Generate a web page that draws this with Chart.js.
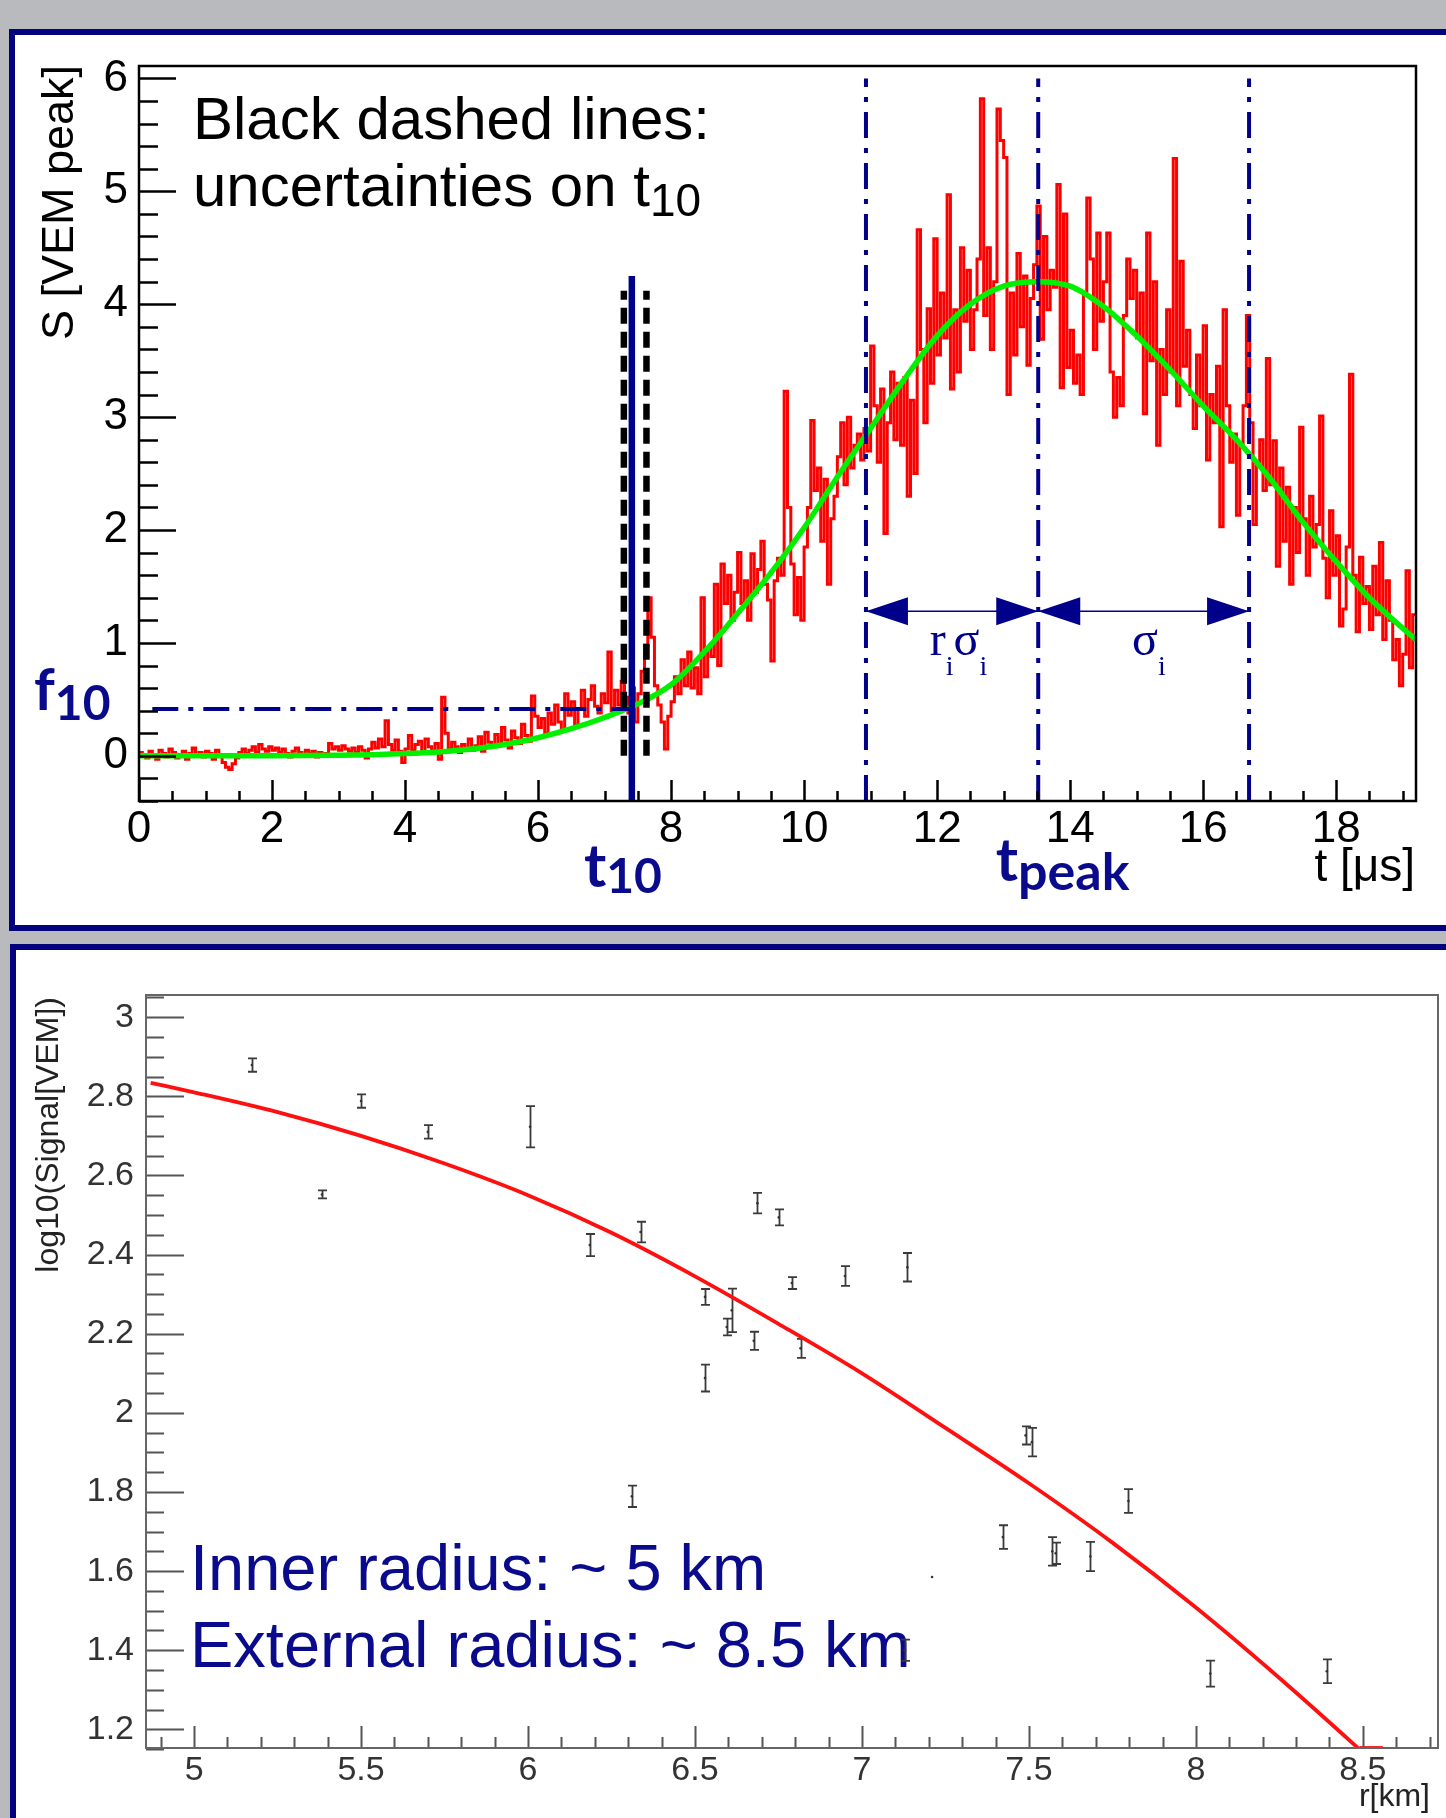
<!DOCTYPE html>
<html>
<head>
<meta charset="utf-8">
<script src="https://cdn.jsdelivr.net/npm/chart.js@4.4.1/dist/chart.umd.min.js"></script>
<style>
html,body{margin:0;padding:0;background:#b9babe;width:1446px;height:1818px;overflow:hidden;}
.panel{position:absolute;background:#ffffff;border:6px solid #03037e;box-sizing:border-box;}
#p1{left:9px;top:29px;width:1470px;height:902px;}
#p2{left:10px;top:944px;width:1470px;height:900px;}
canvas{position:absolute;left:0;}
#c1{top:0;}
#c2{top:930px;}
</style>
</head>
<body>
<div class="panel" id="p1"></div>
<div class="panel" id="p2"></div>
<canvas id="c1" width="1446" height="930"></canvas>
<canvas id="c2" width="1446" height="888"></canvas>
<script>
// ---------------- TOP PANEL DATA ----------------
const traceT0 = 0;          // start time of first bin [us]
const traceBin = 0.05;      // bin width [us]
const traceValues = [
  0.03,0.01,-0.02,0.04,0.00,-0.03,0.05,0.02,-0.01,0.06,0.03,-0.02,0.01,0.04,-0.03,0.02,0.07,0.00,0.03,-0.01,
  0.04,0.02,-0.03,0.05,0.01,-0.06,-0.10,-0.12,-0.07,-0.02,0.03,0.06,0.02,0.05,0.08,0.03,0.10,0.06,0.04,0.08,
  0.05,0.07,0.03,0.06,0.02,-0.01,0.04,0.07,0.03,0.00,0.05,0.02,0.04,-0.01,0.03,0.00,0.02,0.11,0.06,0.08,
  0.05,0.09,0.06,0.04,0.07,0.03,0.08,0.05,-0.02,0.06,0.12,0.07,0.15,0.08,0.31,0.10,0.05,0.14,0.04,-0.06,
  0.06,0.18,0.05,0.10,0.13,0.02,0.15,0.08,0.04,0.11,-0.03,0.52,0.20,0.06,0.12,0.08,0.03,0.10,0.06,0.15,
  0.05,0.09,0.17,0.04,0.21,0.12,0.08,0.19,0.10,0.25,0.14,0.07,0.22,0.16,0.11,0.28,0.18,0.13,0.53,0.35,
  0.25,0.33,0.20,0.38,0.28,0.45,0.30,0.22,0.55,0.36,0.48,0.27,0.41,0.58,0.35,0.50,0.62,0.44,0.38,0.55,
  0.47,0.92,0.40,0.58,0.45,0.66,0.52,0.38,0.60,0.30,0.55,0.75,0.98,1.40,1.05,0.62,0.45,0.30,0.06,0.35,
  0.48,0.70,0.55,0.85,0.62,0.92,0.60,0.78,0.55,1.40,0.70,0.95,0.88,1.52,0.80,1.70,1.35,1.60,1.20,1.45,
  1.80,1.35,1.55,1.20,1.79,1.45,1.65,1.90,1.52,1.38,0.84,1.55,1.75,1.60,3.23,2.20,1.70,1.25,1.58,1.20,
  1.85,2.20,2.97,2.35,2.55,1.90,2.45,1.52,2.10,2.30,2.65,2.95,2.40,3.00,2.55,2.75,2.85,2.62,2.90,2.70,
  3.63,3.10,2.60,3.25,1.97,2.95,3.40,2.80,3.30,2.75,3.35,2.30,3.15,2.50,4.66,3.60,2.95,3.96,3.30,4.58,
  3.55,4.10,3.70,4.97,3.25,3.95,3.40,4.50,3.85,4.30,3.60,3.95,4.40,5.82,3.90,4.50,3.60,4.20,5.73,5.45,
  5.30,3.20,4.10,3.55,4.45,3.80,4.25,3.46,4.05,4.35,4.87,3.69,4.60,3.95,4.30,4.15,5.06,3.26,4.80,3.44,
  3.77,3.30,3.55,3.20,4.10,4.94,4.40,3.60,4.63,3.85,4.20,4.63,3.40,3.00,3.35,3.10,3.90,4.40,4.05,4.30,
  3.70,4.10,3.03,4.63,3.50,4.20,2.75,3.60,3.20,3.95,3.40,5.29,3.10,4.38,3.45,3.77,3.20,2.90,3.55,3.10,
  3.81,2.62,3.20,2.95,3.45,2.03,3.95,3.10,2.60,2.85,2.13,2.75,3.10,3.90,2.95,2.05,2.60,2.80,2.35,3.52,
  2.40,2.79,1.68,2.55,1.90,2.38,1.52,2.20,1.80,2.91,2.10,1.60,2.30,1.85,2.05,3.01,1.75,1.40,2.17,1.60,
  1.95,1.15,1.30,1.85,3.38,1.60,1.10,1.76,1.35,1.50,1.12,1.68,1.25,1.89,1.03,1.55,1.20,0.85,1.03,0.62,
  0.90,1.64,0.78,1.25
];
const fitT = [0,1,2,3,3.5,4,4.5,5,5.5,6,6.5,7,7.5,8,8.5,9,9.5,10,10.5,11,11.5,12,12.5,13,13.5,14,14.5,15,15.5,16,16.5,17,17.5,18,18.5,19,19.2];
const fitS = [0.00,0.00,0.00,0.005,0.01,0.02,0.035,0.06,0.10,0.16,0.24,0.34,0.46,0.63,0.92,1.26,1.62,2.02,2.47,2.90,3.33,3.72,4.00,4.16,4.20,4.16,3.98,3.72,3.42,3.10,2.80,2.46,2.07,1.72,1.40,1.13,1.03];

const t10 = 7.41, t10Low = 7.29, t10High = 7.63;
const t10LineTop = 4.25, t10DashTop = 4.12, t10DashBottom = 0.0;
const f10 = 0.415, f10Start = 0.2;
const tRise = 10.93, tPeak = 13.52, tFall = 16.69;
const markerTop = 6.0, axisBottomTop = -0.4;
const arrowLevel = 1.28;

const xTicksTop = [0,2,4,6,8,10,12,14,16,18];
const xTickLabelsTop = ['0','2','4','6','8','10','12','14','16','18'];
const yTicksTop = [0,1,2,3,4,5,6];
const yTickLabelsTop = ['0','1','2','3','4','5','6'];

// ---------------- BOTTOM PANEL DATA ----------------
const pointsR = [5.173,5.383,5.50,5.70,6.006,6.185,6.337,6.311,6.53,6.53,6.595,6.61,6.676,6.687,6.751,6.79,6.816,6.949,7.136,7.128,7.21,7.422,7.49,7.509,7.57,7.58,7.684,7.798,8.043,8.392];
const pointsV = [2.879,2.552,2.788,2.71,2.723,2.424,2.457,1.789,2.293,2.088,2.217,2.259,2.182,2.53,2.494,2.328,2.163,2.346,2.368,1.40,1.585,1.686,1.943,1.926,1.65,1.645,1.637,1.777,1.341,1.347];
const pointsErr = [0.017,0.010,0.017,0.017,0.052,0.028,0.026,0.027,0.020,0.034,0.021,0.055,0.023,0.026,0.020,0.015,0.024,0.025,0.036,0.027,0,0.030,0.023,0.036,0.036,0.027,0.037,0.030,0.033,0.030];
const ldfR = [4.87,5.0,5.25,5.5,5.75,6.0,6.25,6.5,6.75,7.0,7.25,7.5,7.75,8.0,8.25,8.5,8.6];
const ldfV = [2.834,2.81,2.76,2.70,2.63,2.55,2.455,2.345,2.225,2.10,1.962,1.822,1.672,1.508,1.33,1.142,1.065];
const ldfTailR = [8.49,8.56];     // short flat piece of the fit along the lower axis
const ldfTailV = [1.153,1.153];

const xTicksBot = [5,5.5,6,6.5,7,7.5,8,8.5];
const xTickLabelsBot = ['5','5.5','6','6.5','7','7.5','8','8.5'];
const yTicksBot = [1.2,1.4,1.6,1.8,2.0,2.2,2.4,2.6,2.8,3.0];
const yTickLabelsBot = ['1.2','1.4','1.6','1.8','2','2.2','2.4','2.6','2.8','3'];

// ---------------- STYLE ----------------
const NAVY = '#00008b';
const TXTNAVY = '#0a0a8c';
const SANS = "'Liberation Sans', Arial, Helvetica, sans-serif";
Chart.defaults.font.family = SANS;
Chart.defaults.animation = false;

function range(a, b, step) {
  const out = [];
  const n = Math.round((b - a) / step);
  for (let i = 0; i <= n; i++) out.push(+(a + i * step).toFixed(4));
  return out;
}
const yMinorTop = range(-0.4, 6.0, 0.2);
const xMinorTop = range(0, 19, 0.5);
const yMinorBot = range(1.15, 3.05, 0.05);
const xMinorBot = range(4.9, 8.7, 0.1);

function drawFrameTicks(chart, o) {
  const {ctx, chartArea: ca, scales: {x, y}} = chart;
  ctx.save();
  ctx.strokeStyle = o.color;
  ctx.lineWidth = o.width;
  ctx.lineCap = 'butt';
  ctx.beginPath();
  o.yMinor.forEach(v => { const p = Math.round(y.getPixelForValue(v)) + 0.5; ctx.moveTo(ca.left, p); ctx.lineTo(ca.left + o.yMinLen, p); });
  o.yMajor.forEach(v => { const p = Math.round(y.getPixelForValue(v)) + 0.5; ctx.moveTo(ca.left, p); ctx.lineTo(ca.left + o.yMajLen, p); });
  o.xMinor.forEach(v => { const p = Math.round(x.getPixelForValue(v)) + 0.5; ctx.moveTo(p, ca.bottom); ctx.lineTo(p, ca.bottom - o.xMinLen); });
  o.xMajor.forEach(v => { const p = Math.round(x.getPixelForValue(v)) + 0.5; ctx.moveTo(p, ca.bottom); ctx.lineTo(p, ca.bottom - o.xMajLen); });
  ctx.stroke();
  ctx.strokeStyle = o.frameColor;
  ctx.lineWidth = o.frameWidth;
  ctx.strokeRect(ca.left, ca.top, ca.right - ca.left, ca.bottom - ca.top);
  ctx.restore();
}

function subText(ctx, main, sub, x, y, mainFont, subFont, subDy, color) {
  ctx.fillStyle = color;
  ctx.font = mainFont;
  ctx.textAlign = 'left';
  ctx.textBaseline = 'alphabetic';
  ctx.fillText(main, x, y);
  const w = ctx.measureText(main).width;
  ctx.font = subFont;
  ctx.fillText(sub, x + w, y + subDy);
}

// ---------------- TOP CHART ----------------
const tracePoints = traceValues.map((v, i) => ({x: traceT0 + i * traceBin, y: v}));
tracePoints.push({x: traceT0 + traceValues.length * traceBin, y: traceValues[traceValues.length - 1]});
const fitPoints = fitT.map((t, i) => ({x: t, y: fitS[i]}));

const topDecor = {
  id: 'topDecor',
  afterDatasetsDraw(chart) {
    const {ctx, scales: {x, y}} = chart;
    ctx.save();
    ctx.fillStyle = NAVY;
    const ay = y.getPixelForValue(arrowLevel);
    [[tRise, -1], [tPeak, 1], [tPeak, -1], [tFall, 1]].forEach(([t, d]) => {
      const px = x.getPixelForValue(t);
      ctx.beginPath();
      ctx.moveTo(px, ay);
      ctx.lineTo(px - d * 42, ay - 14);
      ctx.lineTo(px - d * 42, ay + 14);
      ctx.closePath();
      ctx.fill();
    });
    ctx.restore();
    drawFrameTicks(chart, {
      color: '#000', width: 2.5, frameColor: '#000', frameWidth: 2.5,
      yMinor: yMinorTop, yMajor: yTicksTop, xMinor: xMinorTop, xMajor: xTicksTop,
      yMinLen: 19, yMajLen: 37, xMinLen: 10, xMajLen: 21
    });
  },
  afterDraw(chart) {
    const {ctx, chartArea: ca, scales: {x, y}} = chart;
    ctx.save();
    // axis titles
    ctx.fillStyle = '#000';
    ctx.font = '45px ' + SANS;
    ctx.save();
    ctx.translate(73, ca.top - 1);
    ctx.rotate(-Math.PI / 2);
    ctx.textAlign = 'right';
    ctx.textBaseline = 'alphabetic';
    ctx.fillText('S [VEM peak]', 0, 0);
    ctx.restore();
    ctx.font = '46px ' + SANS;
    ctx.textAlign = 'right';
    ctx.fillText('t [\u03bcs]', ca.right - 1, 881);
    // annotation text
    ctx.textAlign = 'left';
    ctx.font = '60px ' + SANS;
    ctx.fillText('Black dashed lines:', 193, 139);
    subText(ctx, 'uncertainties on t', '10', 193, 206, '60px ' + SANS, '46px ' + SANS, 10, '#000');
    // f10, t10, tpeak
    subText(ctx, 't', '10', x.getPixelForValue(6.69), 887, 'bold 60px Lato, ' + SANS, 'bold 48px Lato, ' + SANS, 6, TXTNAVY);
    subText(ctx, 'f', '10', 34, 710, 'bold 58px Lato, ' + SANS, 'bold 48px Lato, ' + SANS, 10, TXTNAVY);
    subText(ctx, 't', 'peak', x.getPixelForValue(12.88), 881, 'bold 60px Lato, ' + SANS, 'bold 52px Lato, ' + SANS, 9, TXTNAVY);
    // r_i sigma_i, sigma_i
    const serif = "'Liberation Serif', 'Times New Roman', serif";
    const by = y.getPixelForValue(0.89);
    let px = x.getPixelForValue(11.89);
    ctx.fillStyle = NAVY;
    ctx.font = '48px ' + serif; ctx.fillText('r', px, by); px += ctx.measureText('r').width;
    ctx.font = '28px ' + serif; ctx.fillText('i', px, by + 20); px += ctx.measureText('i').width;
    ctx.font = '48px ' + serif; ctx.fillText('\u03c3', px, by); px += ctx.measureText('\u03c3').width;
    ctx.font = '28px ' + serif; ctx.fillText('i', px, by + 20);
    px = x.getPixelForValue(14.93);
    ctx.font = '48px ' + serif; ctx.fillText('\u03c3', px, by); px += ctx.measureText('\u03c3').width;
    ctx.font = '28px ' + serif; ctx.fillText('i', px, by + 20);
    ctx.restore();
  }
};

const vline = (t, y0, y1) => [{x: t, y: y0}, {x: t, y: y1}];
const DASHDOT = [26, 10, 5, 10];

new Chart(document.getElementById('c1'), {
  type: 'line',
  data: {
    datasets: [
      {label: 't10', data: vline(t10, axisBottomTop, t10LineTop), borderColor: NAVY, borderWidth: 6.5, order: 1},
      {label: 't10 low', data: vline(t10Low, t10DashBottom, t10DashTop), borderColor: '#000', borderWidth: 6.5, borderDash: [16, 8], order: 2},
      {label: 't10 high', data: vline(t10High, t10DashBottom, t10DashTop), borderColor: '#000', borderWidth: 6.5, borderDash: [16, 8], order: 2},
      {label: 'f10', data: [{x: f10Start, y: f10}, {x: t10, y: f10}], borderColor: NAVY, borderWidth: 4, borderDash: DASHDOT, order: 3},
      {label: 'arrow r sigma', data: [{x: tRise, y: arrowLevel}, {x: tPeak, y: arrowLevel}], borderColor: NAVY, borderWidth: 1.5, order: 3},
      {label: 'arrow sigma', data: [{x: tPeak, y: arrowLevel}, {x: tFall, y: arrowLevel}], borderColor: NAVY, borderWidth: 1.5, order: 3},
      {label: 'rise', data: vline(tRise, axisBottomTop, markerTop), borderColor: NAVY, borderWidth: 4, borderDash: DASHDOT, order: 4},
      {label: 'peak', data: vline(tPeak, axisBottomTop, markerTop), borderColor: NAVY, borderWidth: 4, borderDash: DASHDOT, order: 4},
      {label: 'fall', data: vline(tFall, axisBottomTop, markerTop), borderColor: NAVY, borderWidth: 4, borderDash: DASHDOT, order: 4},
      {label: 'fit', data: fitPoints, borderColor: '#00f000', borderWidth: 5.5, cubicInterpolationMode: 'monotone', order: 5},
      {label: 'trace', data: tracePoints, borderColor: '#ff0000', borderWidth: 3, stepped: true, order: 6}
    ]
  },
  options: {
    responsive: false,
    animation: false,
    events: [],
    elements: {point: {radius: 0}, line: {tension: 0, borderCapStyle: 'butt'}},
    plugins: {legend: {display: false}, tooltip: {enabled: false}},
    layout: {padding: {left: 0, top: 66, right: 30, bottom: 0}},
    scales: {
      x: {
        type: 'linear', min: 0, max: 19.2,
        grid: {display: false, drawTicks: false}, border: {display: false},
        afterBuildTicks: s => { s.ticks = xTicksTop.map(v => ({value: v})); },
        afterFit: s => { s.height = 129; },
        ticks: {font: {size: 44}, color: '#000', padding: 2, maxRotation: 0, autoSkip: false,
                callback: (v, i) => xTickLabelsTop[i]}
      },
      y: {
        type: 'linear', min: -0.4, max: 6.11,
        grid: {display: false, drawTicks: false}, border: {display: false},
        afterBuildTicks: s => { s.ticks = yTicksTop.map(v => ({value: v})); },
        afterFit: s => { s.width = 139; },
        ticks: {font: {size: 44}, color: '#000', padding: 11, autoSkip: false,
                callback: (v, i) => yTickLabelsTop[i]}
      }
    }
  },
  plugins: [topDecor]
});

// ---------------- BOTTOM CHART ----------------
const botDecor = {
  id: 'botDecor',
  beforeDatasetsDraw(chart) {
    const {ctx, scales: {x, y}} = chart;
    ctx.save();
    // blue text
    ctx.fillStyle = TXTNAVY;
    ctx.font = '65px ' + SANS;
    ctx.textAlign = 'left';
    ctx.textBaseline = 'alphabetic';
    ctx.fillText('Inner radius: ~ 5 km', 190, 660);
    ctx.fillText('External radius: ~ 8.5 km', 190, 737);
    // error bars
    ctx.strokeStyle = '#3a3a3a';
    ctx.lineWidth = 1.8;
    ctx.beginPath();
    pointsR.forEach((r, i) => {
      const e = pointsErr[i];
      if (!e) return;
      const px = Math.round(x.getPixelForValue(r)) + 0.5;
      const y1 = y.getPixelForValue(pointsV[i] - e);
      const y2 = y.getPixelForValue(pointsV[i] + e);
      ctx.moveTo(px, y1); ctx.lineTo(px, y2);
      ctx.moveTo(px - 4.5, y1); ctx.lineTo(px + 4.5, y1);
      ctx.moveTo(px - 4.5, y2); ctx.lineTo(px + 4.5, y2);
    });
    ctx.stroke();
    ctx.restore();
  },
  afterDatasetsDraw(chart) {
    drawFrameTicks(chart, {
      color: '#555', width: 2, frameColor: '#666', frameWidth: 2,
      yMinor: yMinorBot, yMajor: yTicksBot, xMinor: xMinorBot, xMajor: xTicksBot,
      yMinLen: 18, yMajLen: 38, xMinLen: 11, xMajLen: 22
    });
  },
  afterDraw(chart) {
    const {ctx, chartArea: ca} = chart;
    ctx.save();
    ctx.fillStyle = '#222';
    ctx.font = '32px ' + SANS;
    ctx.save();
    ctx.translate(58, ca.top + 2);
    ctx.rotate(-Math.PI / 2);
    ctx.textAlign = 'right';
    ctx.textBaseline = 'alphabetic';
    ctx.fillText('log10(Signal[VEM])', 0, 0);
    ctx.restore();
    ctx.textAlign = 'right';
    ctx.textBaseline = 'alphabetic';
    ctx.fillText('r[km]', ca.right - 8, 876);
    ctx.restore();
  }
};

new Chart(document.getElementById('c2'), {
  type: 'scatter',
  data: {
    datasets: [
      {label: 'LDF fit', data: ldfR.map((r, i) => ({x: r, y: ldfV[i]})), showLine: true, borderColor: '#ff1010', borderWidth: 3.8, pointRadius: 0, cubicInterpolationMode: 'monotone', order: 1},
      {label: 'LDF tail', data: ldfTailR.map((r, i) => ({x: r, y: ldfTailV[i]})), showLine: true, borderColor: '#ff1010', borderWidth: 3.8, pointRadius: 0, order: 1},
      {label: 'stations', data: pointsR.map((r, i) => ({x: r, y: pointsV[i]})), showLine: false, pointRadius: 1.3, pointBackgroundColor: '#333', pointBorderWidth: 0, order: 2}
    ]
  },
  options: {
    responsive: false,
    animation: false,
    events: [],
    plugins: {legend: {display: false}, tooltip: {enabled: false}},
    layout: {padding: {left: 0, top: 65, right: 8, bottom: 0}},
    scales: {
      x: {
        type: 'linear', min: 4.856, max: 8.725,
        grid: {display: false, drawTicks: false}, border: {display: false},
        afterBuildTicks: s => { s.ticks = xTicksBot.map(v => ({value: v})); },
        afterFit: s => { s.height = 70; },
        ticks: {font: {size: 34}, color: '#333', padding: 2, maxRotation: 0, autoSkip: false,
                callback: (v, i) => xTickLabelsBot[i]}
      },
      y: {
        type: 'linear', min: 1.153, max: 3.056,
        grid: {display: false, drawTicks: false}, border: {display: false},
        afterBuildTicks: s => { s.ticks = yTicksBot.map(v => ({value: v})); },
        afterFit: s => { s.width = 146; },
        ticks: {font: {size: 34}, color: '#333', padding: 12, autoSkip: false,
                callback: (v, i) => yTickLabelsBot[i]}
      }
    }
  },
  plugins: [botDecor]
});
</script>
</body>
</html>
